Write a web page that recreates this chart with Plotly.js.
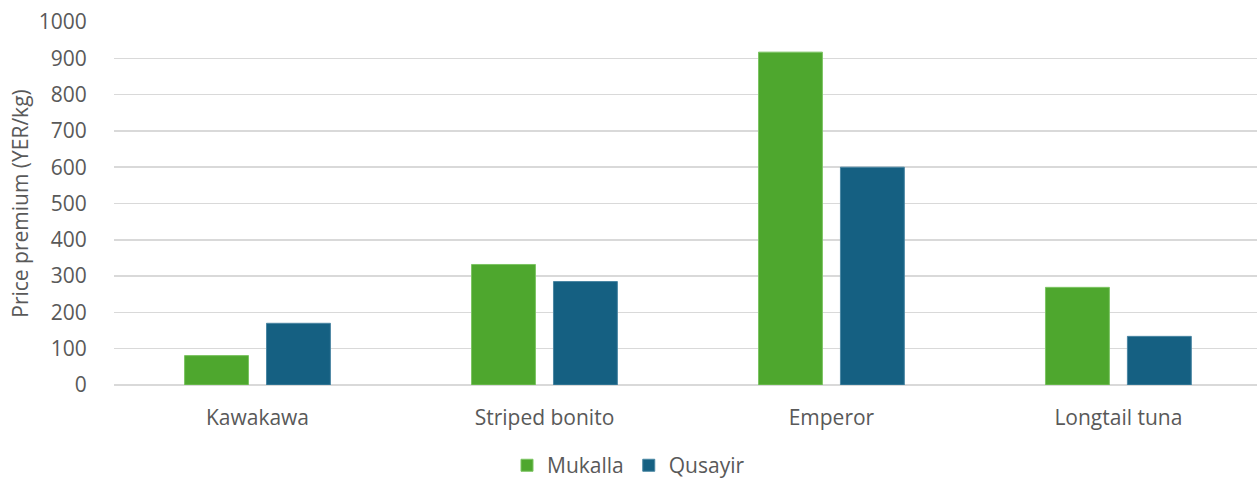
<!DOCTYPE html>
<html>
<head>
<meta charset="utf-8">
<script src="https://cdn.plot.ly/plotly-3.0.1.min.js"></script>
<style>
  html, body { margin: 0; padding: 0; background: #ffffff; }
  #chart { width: 1257px; height: 480px; }
</style>
</head>
<body>
<div id="chart"></div>
<script>
// Fish species and price premium (YER/kg) at two landing sites
const species = ["Kawakawa", "Striped bonito", "Emperor", "Longtail tuna"];
const mukalla = [81, 332, 917, 269];
const qusayir = [170, 285, 600, 134];
const yTicks = [0, 100, 200, 300, 400, 500, 600, 700, 800, 900, 1000];

const textColor = "#595959";
const fontFamily = "Open Sans, Lato, sans-serif";
const fontSize = 21;

const traces = [
  {
    type: "bar",
    name: "Mukalla",
    x: species,
    y: mukalla,
    marker: { color: "#4EA72E", line: { color: "#7cc463", width: 1 } },
    hoverinfo: "x+y+name"
  },
  {
    type: "bar",
    name: "Qusayir",
    x: species,
    y: qusayir,
    marker: { color: "#156082", line: { color: "#4a86a3", width: 1 } },
    hoverinfo: "x+y+name"
  }
];

const layout = {
  width: 1257,
  height: 480,
  margin: { l: 114, r: 0, t: 22, b: 94.5 },
  paper_bgcolor: "#ffffff",
  plot_bgcolor: "#ffffff",
  font: { family: fontFamily, color: textColor, size: fontSize },
  barmode: "group",
  bargap: 0.429,
  bargroupgap: 0.22,
  xaxis: {
    type: "category",
    range: [-0.5, 3.483],
    showgrid: false,
    showline: false,
    zeroline: false,
    ticks: "outside",
    ticklen: 14,
    tickcolor: "rgba(0,0,0,0)",
    tickfont: { family: fontFamily, size: fontSize, color: textColor }
  },
  yaxis: {
    range: [0, 1000],
    tickvals: yTicks,
    ticktext: yTicks.map(String),
    showgrid: true,
    gridcolor: "#D9D9D9",
    gridwidth: 1.5,
    zeroline: true,
    zerolinecolor: "#D9D9D9",
    zerolinewidth: 1.5,
    showline: false,
    ticks: "outside",
    ticklen: 22,
    tickcolor: "rgba(0,0,0,0)",
    tickfont: { family: fontFamily, size: fontSize, color: textColor },
    title: {
      text: "Price premium (YER/kg)",
      font: { family: fontFamily, size: fontSize, color: textColor },
      standoff: 4
    }
  },
  showlegend: true,
  legend: {
    orientation: "h",
    x: 0.5,
    xref: "container",
    xanchor: "center",
    y: 0.03,
    yref: "container",
    yanchor: "middle",
    font: { family: fontFamily, size: fontSize, color: textColor },
    itemwidth: 30,
    tracegroupgap: 0,
    traceorder: "normal"
  }
};

Plotly.newPlot("chart", traces, layout, { displayModeBar: false, staticPlot: true });
</script>
</body>
</html>
